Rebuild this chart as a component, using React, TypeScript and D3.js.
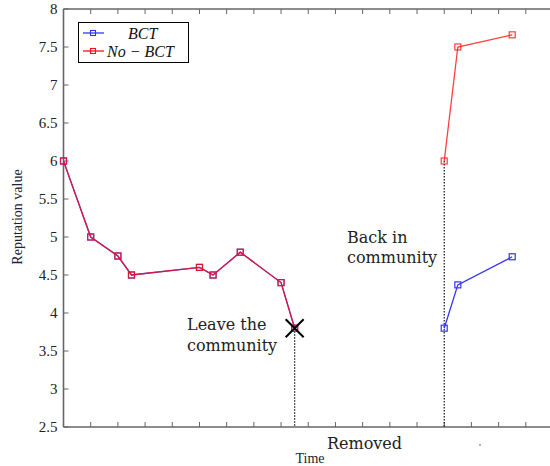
import React, { useEffect, useRef } from "react";
import * as d3 from "d3";

// time steps (x) and reputation values
const beforeTime = [0, 1, 2, 2.5, 5, 5.5, 6.5, 8, 8.5];
const beforeValues = [6, 5, 4.75, 4.5, 4.6, 4.5, 4.8, 4.4, 3.8];
const afterTime = [14, 14.5, 16.5];
const bctAfter = [3.8, 4.37, 4.74];
const noBctAfter = [6.0, 7.5, 7.66];
const yTicks = [2.5, 3, 3.5, 4, 4.5, 5, 5.5, 6, 6.5, 7, 7.5, 8];
const xTicks = d3.range(1, 18);
const leaveTime = 8.5;
const leaveValue = 3.8;
const backTime = 14;
const backValue = 6.0;

const W = 550;
const H = 466;

export default function App() {
  const ref = useRef<SVGSVGElement>(null);

  useEffect(() => {
    const svg = d3.select(ref.current);
    svg.selectAll("*").remove();

    const x = d3.scaleLinear().domain([0, 18]).range([63.5, 553]);
    const y = d3.scaleLinear().domain([2.5, 8]).range([427, 9]);
    const axisColor = "#666";

    const g = svg.append("g");

    // tick marks (inside) on bottom/top and left
    xTicks.forEach((t) => {
      g.append("line").attr("x1", x(t)).attr("x2", x(t)).attr("y1", y(2.5)).attr("y2", y(2.5) - 5)
        .attr("stroke", axisColor).attr("stroke-width", 1);
      g.append("line").attr("x1", x(t)).attr("x2", x(t)).attr("y1", y(8)).attr("y2", y(8) + 5)
        .attr("stroke", axisColor).attr("stroke-width", 1);
    });
    yTicks.forEach((t) => {
      g.append("line").attr("x1", x(0)).attr("x2", x(0) + 5).attr("y1", y(t)).attr("y2", y(t))
        .attr("stroke", axisColor).attr("stroke-width", 1);
      g.append("text").attr("x", x(0) - 6).attr("y", y(t)).attr("dy", "0.35em")
        .attr("text-anchor", "end").attr("font-family", "Liberation Serif").attr("font-size", 15)
        .attr("fill", "#222").text(String(t));
    });

    // axis box lines (no right side visible)
    g.append("line").attr("x1", x(0)).attr("x2", W).attr("y1", y(2.5)).attr("y2", y(2.5))
      .attr("stroke", axisColor).attr("stroke-width", 1.6);
    g.append("line").attr("x1", x(0)).attr("x2", W).attr("y1", y(8)).attr("y2", y(8))
      .attr("stroke", axisColor).attr("stroke-width", 1.6);
    g.append("line").attr("x1", x(0)).attr("x2", x(0)).attr("y1", y(2.5)).attr("y2", y(8))
      .attr("stroke", axisColor).attr("stroke-width", 1.6);

    // dotted guide lines
    g.append("line").attr("x1", x(leaveTime)).attr("x2", x(leaveTime)).attr("y1", y(leaveValue)).attr("y2", y(2.5))
      .attr("stroke", "#111").attr("stroke-width", 1.2).attr("stroke-dasharray", "1.5,1.5");
    g.append("line").attr("x1", x(backTime)).attr("x2", x(backTime)).attr("y1", y(backValue)).attr("y2", y(2.5))
      .attr("stroke", "#111").attr("stroke-width", 1.2).attr("stroke-dasharray", "1.5,1.5");

    const line = d3.line<[number, number]>().x((d) => x(d[0])).y((d) => y(d[1]));
    const series = [
      { color: "#3333ff", parts: [d3.zip(beforeTime, beforeValues), d3.zip(afterTime, bctAfter)], opacity: 1 },
      { color: "#ff1010", parts: [d3.zip(beforeTime, beforeValues), d3.zip(afterTime, noBctAfter)], opacity: 0.8 },
    ];
    series.forEach((s) => {
      s.parts.forEach((pts) => {
        g.append("path").datum(pts as [number, number][]).attr("d", line).attr("fill", "none")
          .attr("stroke", s.color).attr("stroke-width", 1.3).attr("stroke-opacity", s.opacity);
        g.selectAll(null).data(pts).enter().append("rect")
          .attr("x", (d) => x(d[0]) - 3).attr("y", (d) => y(d[1]) - 3)
          .attr("width", 6).attr("height", 6).attr("fill", "none")
          .attr("stroke", s.color).attr("stroke-width", 1.2).attr("stroke-opacity", s.opacity);
      });
    });

    // leave marker
    const cx = x(leaveTime), cy = y(leaveValue), r = 9;
    g.append("path").attr("d", `M${cx - r},${cy - r}L${cx + r},${cy + r}M${cx - r},${cy + r}L${cx + r},${cy - r}`)
      .attr("stroke", "#000").attr("stroke-width", 2);

    // annotations
    const ann = (tx: number, ty: number, txt: string, size = 16) =>
      g.append("text").attr("x", tx).attr("y", ty).attr("font-family", "DejaVu Serif")
        .attr("font-size", size).attr("fill", "#222").text(txt);
    ann(187, 330, "Leave the");
    ann(187, 351, "community");
    ann(347, 243, "Back in");
    ann(347, 263, "community");
    ann(327, 449, "Removed");
    g.append("circle").attr("cx", 480).attr("cy", 445).attr("r", 0.7).attr("fill", "#333");

    // axis titles
    g.append("text").attr("x", 310).attr("y", 463).attr("text-anchor", "middle")
      .attr("font-family", "Liberation Serif").attr("font-size", 14).attr("fill", "#223")
      .text("Time");
    g.append("text").attr("transform", `translate(22,${217}) rotate(-90)`).attr("text-anchor", "middle")
      .attr("font-family", "Liberation Serif").attr("font-size", 14).attr("fill", "#223")
      .text("Reputation value");

    // legend
    const lg = g.append("g");
    lg.append("rect").attr("x", 78.5).attr("y", 22.5).attr("width", 110).attr("height", 40)
      .attr("fill", "#fff").attr("stroke", "#000").attr("stroke-width", 1);
    const items = [
      { color: "#3333ff", label: "BCT", ly: 33, tx: 128 },
      { color: "#ff1010", label: "No − BCT", ly: 51, tx: 107 },
    ];
    items.forEach((it) => {
      lg.append("line").attr("x1", 83).attr("x2", 104).attr("y1", it.ly).attr("y2", it.ly)
        .attr("stroke", it.color).attr("stroke-width", 1.3);
      lg.append("rect").attr("x", 90.5).attr("y", it.ly - 2.5).attr("width", 5).attr("height", 5)
        .attr("fill", "none").attr("stroke", it.color).attr("stroke-width", 1.1);
      lg.append("text").attr("x", it.tx).attr("y", it.ly).attr("dy", "0.35em")
        .attr("font-family", "Liberation Serif").attr("font-style", "italic").attr("font-size", 16)
        .attr("fill", "#111").text(it.label);
    });
  }, []);

  return (
    <svg ref={ref} width={W} height={H}
      style={{ position: "absolute", left: 0, top: 0, background: "#fff" }} />
  );
}
